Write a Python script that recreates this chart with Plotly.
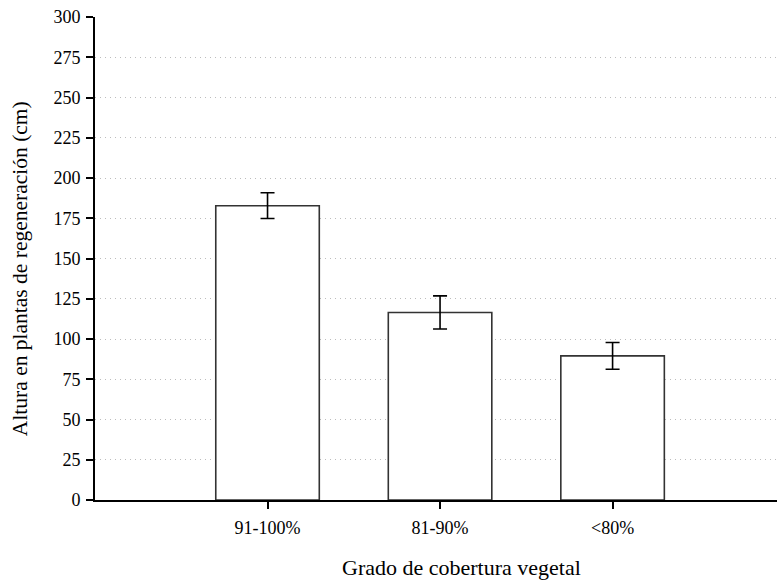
import plotly.graph_objects as go

# Mean regeneration height by vegetation cover class, with error bars
categories = ["91-100%", "81-90%", "<80%"]
heights = [182.8, 116.5, 89.5]
errors = [8.0, 10.3, 8.3]
y_ticks = [0, 25, 50, 75, 100, 125, 150, 175, 200, 225, 250, 275, 300]

x_title = "Grado de cobertura vegetal"
y_title = "Altura en plantas de regeneración (cm)"

serif = "Liberation Serif"

fig = go.Figure(
    go.Bar(
        x=list(range(len(categories))),
        y=heights,
        width=0.6,
        marker=dict(color="white", line=dict(color="#333333", width=1.6)),
        error_y=dict(type="data", array=errors, visible=True,
                     color="black", thickness=1.6, width=7),
    )
)

fig.update_layout(
    width=777,
    height=584,
    margin=dict(l=95, r=0, t=17, b=84),
    plot_bgcolor="white",
    paper_bgcolor="white",
    showlegend=False,
    font=dict(family=serif, size=18, color="black"),
)

fig.update_xaxes(
    range=[-1.0, 2.953],
    tickmode="array",
    tickvals=list(range(len(categories))),
    ticktext=categories,
    ticks="outside",
    ticklen=7,
    tickwidth=1.5,
    tickcolor="black",
    showline=True,
    linecolor="black",
    linewidth=2,
    showgrid=False,
    zeroline=False,
    tickfont=dict(family=serif, size=18),
    ticklabelstandoff=3,
)

fig.update_yaxes(
    range=[0, 300],
    tickmode="array",
    tickvals=y_ticks,
    ticks="outside",
    ticklen=7,
    tickwidth=1.5,
    tickcolor="black",
    showline=True,
    linecolor="black",
    linewidth=2,
    showgrid=True,
    gridcolor="#bdbdbd",
    griddash="1px,4px",
    gridwidth=1,
    zeroline=False,
    tickfont=dict(family=serif, size=18),
    ticklabelstandoff=2,
)

# Axis titles
fig.add_annotation(
    text=x_title, xref="paper", yref="paper",
    x=0.538, y=-0.14, xanchor="center", yanchor="middle",
    showarrow=False, font=dict(family=serif, size=22),
)
fig.add_annotation(
    text=y_title, xref="paper", yref="paper",
    x=-0.11, y=0.48, xanchor="center", yanchor="middle",
    textangle=-90, showarrow=False, font=dict(family=serif, size=21.5),
)

fig.write_html("out.html")
